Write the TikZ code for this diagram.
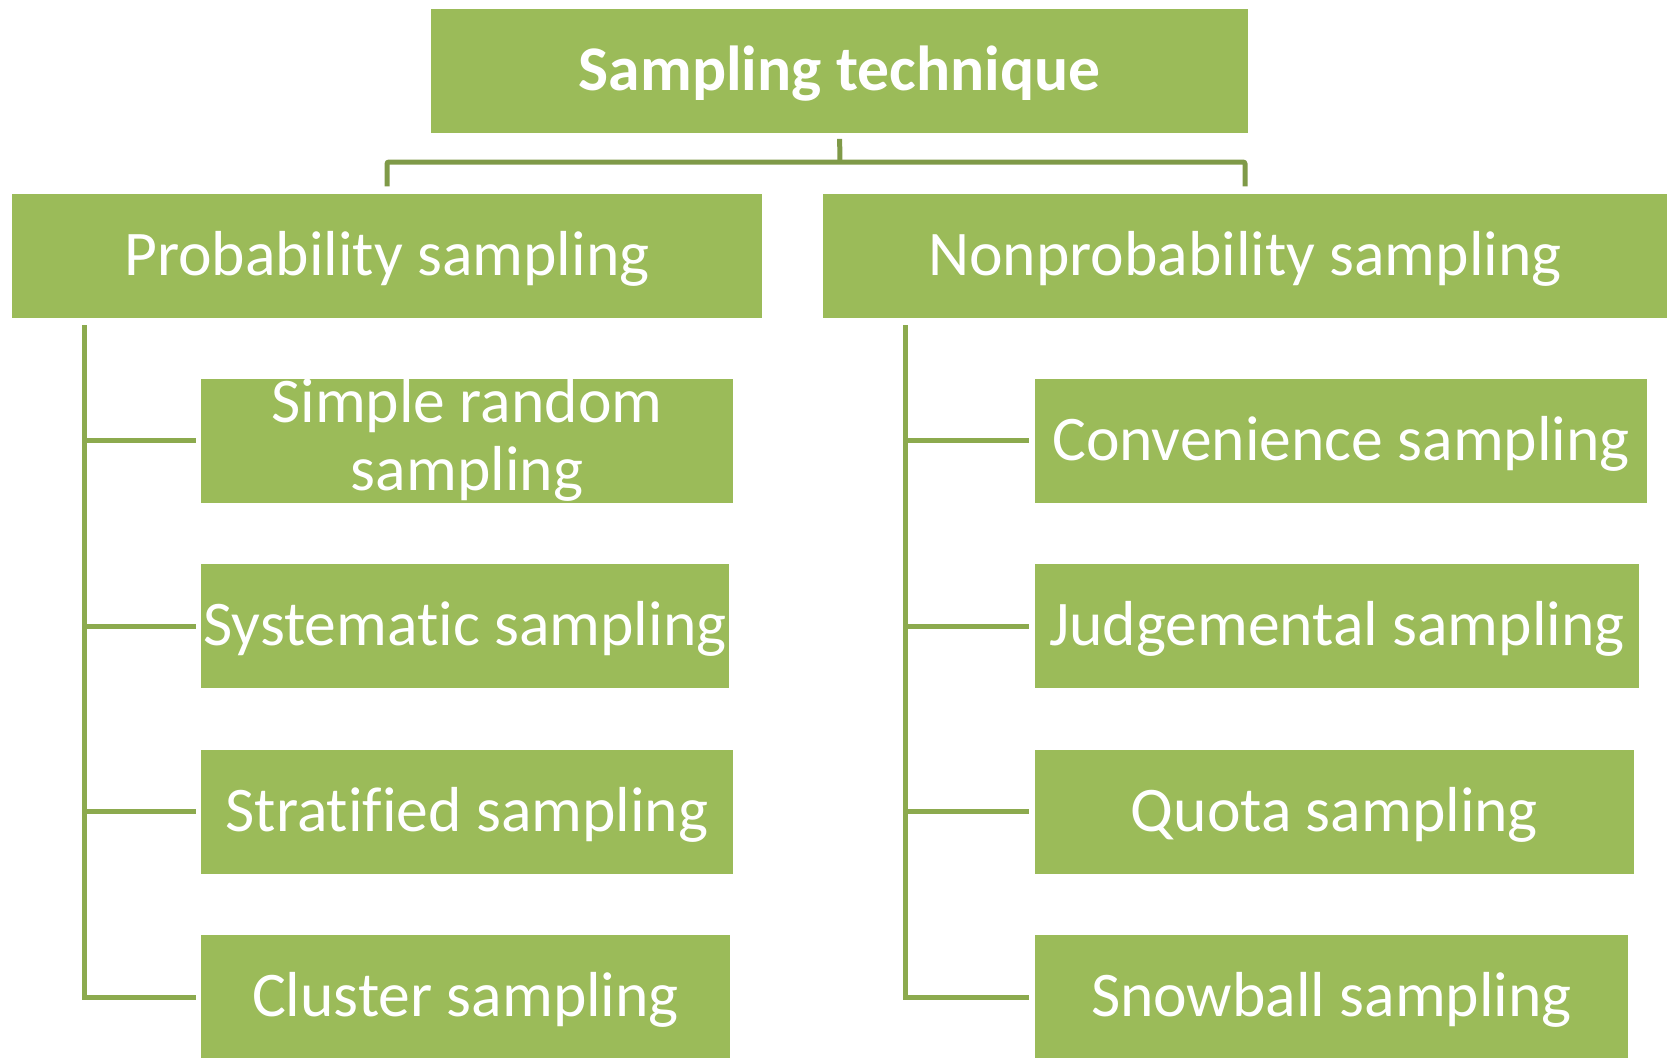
\documentclass[tikz,border=0pt]{standalone}
\usepackage{fontspec}
\setmainfont[Ligatures=NoCommon]{Carlito}
\usetikzlibrary{positioning}
\definecolor{olive}{HTML}{9BBB59}
\definecolor{olivedark}{HTML}{7F9A48}
\definecolor{oliveline}{HTML}{8CAA4E}
\tikzstyle{block} = [rectangle, fill=olive, text=white, text centered, align=center, inner sep=0pt, minimum height=124pt, text height=44pt, text depth=5pt, font=\fontsize{63.6pt}{68pt}\selectfont]
\tikzstyle{bracket} = [draw, olivedark, line width=5pt, rounded corners=2pt]
\tikzstyle{line} = [draw, oliveline, line width=5pt]

\begin{document}
\begin{tikzpicture}[x=1pt, y=-1pt]
	\clip (0,0) rectangle (1669,1057);
	\node [block, minimum width=817pt, font=\fontsize{63.6pt}{68pt}\selectfont\bfseries] (technique) at (839.5,70.75) {Sampling technique};
	\node [block, minimum width=750pt] (prob) at (387,255.5) {Probability sampling};
	\node [block, minimum width=844pt] (nonprob) at (1245,255.5) {Nonprobability sampling};
	\coordinate (split) at (840,162);

	% probability side
	\node [block, minimum width=532pt, text height=105pt] (simple) at (467,440.5) {Simple random\\sampling};
	\node [block, minimum width=528pt] (systematic) at (465,626) {Systematic sampling};
	\node [block, minimum width=532pt] (stratified) at (467,811.5) {Stratified sampling};
	\node [block, minimum width=529pt] (cluster) at (465.5,997) {Cluster sampling};
	\coordinate (ptrunk) at (84,325);

	% nonprobability side
	\node [block, minimum width=612pt] (convenience) at (1341,440.5) {Convenience sampling};
	\node [block, minimum width=604pt] (judgemental) at (1337,626) {Judgemental sampling};
	\node [block, minimum width=599pt] (quota) at (1334.5,811.5) {Quota sampling};
	\node [block, minimum width=593pt] (snowball) at (1331.5,997) {Snowball sampling};
	\coordinate (ntrunk) at (905,325);

	\path[bracket, shorten <=6pt] (technique.south) -- (split);
	\path[bracket, shorten <=7pt, shorten >=7pt] (prob.north) |- (split) -| (nonprob.north);

	\path[line, shorten >=5pt] (ptrunk) |- (cluster.west);
	\foreach \n in {simple, systematic, stratified}
		\path[line, shorten >=5pt] (ptrunk |- \n.west) -- (\n.west);
	\path[line, shorten >=6pt] (ntrunk) |- (snowball.west);
	\foreach \n in {convenience, judgemental, quota}
		\path[line, shorten >=6pt] (ntrunk |- \n.west) -- (\n.west);
\end{tikzpicture}
\end{document}
